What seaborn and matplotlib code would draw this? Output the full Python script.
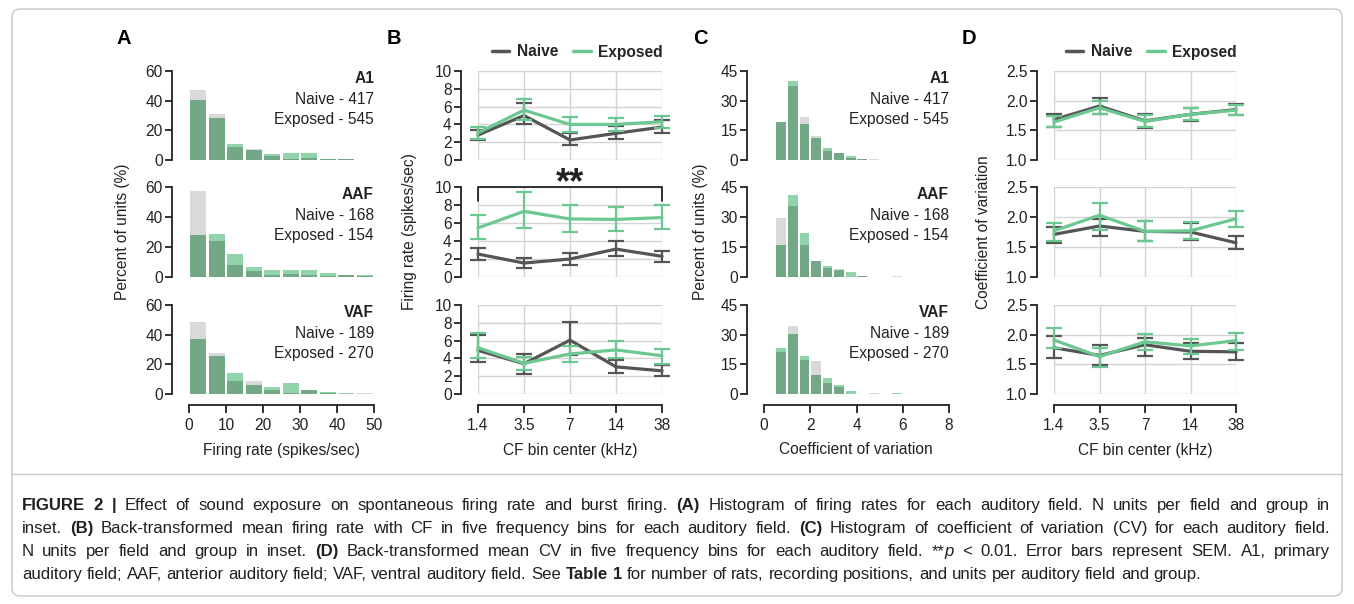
import numpy as np
import pandas as pd
import matplotlib
matplotlib.use("Agg")
import matplotlib.pyplot as plt
import seaborn as sns
from matplotlib.lines import Line2D
from matplotlib.patches import FancyBboxPatch
from matplotlib.transforms import IdentityTransform

# ---- data -------------------------------------------------------------
fields = ['A1', 'AAF', 'VAF']
naive_n = [417, 168, 189]
exposed_n = [545, 154, 270]

# A: firing rate histograms (% of units), bins of 5 spikes/sec
fr_edges = [0, 5, 10, 15, 20, 25, 30, 35, 40, 45, 50]
fr_naive = [[47.5, 31.0, 9.0, 7.5, 3.0, 1.0, 1.5, 1.0, 0.7, 0.2],
            [57.5, 24.0, 8.0, 4.0, 1.5, 2.0, 1.5, 0.5, 1.3, 0.5],
            [48.3, 27.7, 8.5, 8.7, 2.7, 1.0, 2.7, 0.5, 0.3, 0.5]]
fr_exposed = [[40.3, 28.0, 10.5, 7.0, 4.0, 4.5, 4.5, 1.0, 0.7, 0.3],
              [28.0, 29.0, 15.5, 7.0, 4.5, 5.0, 4.5, 2.5, 1.3, 1.1],
              [37.0, 25.5, 14.0, 5.8, 5.0, 7.5, 2.5, 1.3, 1.0, 0.2]]

# C: coefficient of variation histograms, bins of 0.5
cv_edges = [0, 0.5, 1, 1.5, 2, 2.5, 3, 3.5, 4, 4.5, 5, 5.5, 6, 6.5, 7, 7.5, 8]
cv_naive = [[0, 19.3, 37.6, 21.6, 12.0, 4.5, 3.7, 1.0, 0.3, 0.5, 0.2, 0.2, 0.2, 0.2, 0.2, 0.2],
            [0, 29.5, 35.7, 16.0, 8.0, 4.3, 4.2, 0, 0.6, 0, 0, 0.6, 0, 0, 0, 0],
            [0, 21.0, 34.4, 17.0, 16.6, 5.7, 3.4, 0, 0, 0.4, 0, 0, 0, 0, 0, 0]]
cv_exposed = [[0, 19.3, 39.8, 18.0, 11.0, 6.0, 3.7, 2.0, 0.7, 0.2, 0.2, 0.2, 0.2, 0.2, 0.2, 0.2],
              [0, 16.0, 41.0, 22.0, 8.0, 5.7, 3.7, 2.5, 0.6, 0, 0, 0, 0, 0, 0, 0],
              [0, 23.5, 30.5, 19.0, 9.4, 8.2, 4.5, 1.7, 0, 0, 0, 0.4, 0, 0, 0, 0]]

# B / D: CF bins
cf_labels = ['1.4', '3.5', '7', '14', '38']

b_naive_mean = [[2.8, 5.0, 2.25, 3.0, 3.7], [2.55, 1.55, 2.0, 3.1, 2.3], [4.9, 3.4, 6.05, 3.05, 2.6]]
b_naive_lo = [[2.2, 4.0, 1.65, 2.4, 3.05], [1.9, 1.05, 1.35, 2.3, 1.7], [3.6, 2.25, 4.4, 2.4, 2.0]]
b_naive_hi = [[3.4, 6.4, 3.0, 3.8, 4.5], [3.2, 2.1, 2.65, 3.95, 2.9], [6.6, 4.5, 8.1, 3.8, 3.25]]
b_exp_mean = [[3.05, 5.6, 4.0, 4.0, 4.3], [5.45, 7.3, 6.45, 6.4, 6.6], [5.2, 3.45, 4.5, 4.95, 4.3]]
b_exp_lo = [[2.4, 4.5, 3.2, 3.25, 3.55], [4.2, 5.4, 5.0, 5.1, 5.35], [4.0, 2.7, 3.6, 4.0, 3.4]]
b_exp_hi = [[3.7, 6.8, 4.8, 4.75, 4.9], [6.9, 9.4, 8.05, 7.8, 8.05], [6.8, 4.2, 5.4, 5.9, 5.1]]

d_naive_mean = [[1.68, 1.91, 1.66, 1.77, 1.85], [1.71, 1.85, 1.76, 1.75, 1.57], [1.78, 1.65, 1.83, 1.72, 1.71]]
d_naive_lo = [[1.55, 1.77, 1.54, 1.66, 1.76], [1.57, 1.69, 1.60, 1.61, 1.46], [1.60, 1.49, 1.64, 1.59, 1.58]]
d_naive_hi = [[1.78, 2.05, 1.78, 1.88, 1.94], [1.84, 1.97, 1.94, 1.90, 1.68], [1.97, 1.82, 1.95, 1.86, 1.86]]
d_exp_mean = [[1.64, 1.88, 1.65, 1.77, 1.84], [1.77, 2.03, 1.76, 1.77, 1.97], [1.91, 1.63, 1.88, 1.81, 1.90]]
d_exp_lo = [[1.55, 1.77, 1.56, 1.67, 1.75], [1.60, 1.79, 1.60, 1.64, 1.83], [1.78, 1.46, 1.75, 1.68, 1.75]]
d_exp_hi = [[1.74, 2.00, 1.75, 1.87, 1.93], [1.90, 2.23, 1.93, 1.91, 2.10], [2.12, 1.77, 2.01, 1.92, 2.02]]

# ---- style ------------------------------------------------------------
sns.set_style('white')
plt.rcParams['font.family'] = ['Liberation Sans', 'DejaVu Sans']

GRAY = '#d9d9d9'
LIGHT = '#91d4ac'
DARK = '#73a887'
NAIVE = '#555555'
EXPOSED = '#6cc791'
INK = '#222222'
FS = 11.2

W, H = 1354, 604
fig = plt.figure(figsize=(W / 100, H / 100), dpi=100)

rows_top = [71, 187, 305]
rows_bot = [160, 277, 394]


def add_ax(x0, x1, y0, y1):
    return fig.add_axes([x0 / W, 1 - y1 / H, (x1 - x0) / W, (y1 - y0) / H])


def style_axis(ax, bottom_row, xb, yb):
    for s in ['top', 'right']:
        ax.spines[s].set_visible(False)
    ax.spines['left'].set_position(('outward', 12))
    ax.spines['left'].set_bounds(*yb)
    ax.spines['left'].set_color(INK)
    ax.spines['left'].set_linewidth(1.3)
    ax.tick_params(axis='y', direction='out', length=5, width=1.3, color=INK,
                   labelsize=FS, labelcolor=INK, left=True, pad=2)
    if bottom_row:
        ax.spines['bottom'].set_position(('outward', 8))
        ax.spines['bottom'].set_bounds(*xb)
        ax.spines['bottom'].set_color(INK)
        ax.spines['bottom'].set_linewidth(1.3)
        ax.tick_params(axis='x', direction='out', length=6, width=1.3, color=INK,
                       labelsize=FS, labelcolor=INK, bottom=True, pad=3)
    else:
        ax.spines['bottom'].set_visible(False)
        ax.tick_params(axis='x', length=0, labelbottom=False)
    ax.set_xlabel('')
    ax.set_ylabel('')


def hist_panel(ax, edges, naive, exposed):
    centers = [(edges[k] + edges[k + 1]) / 2 for k in range(len(edges) - 1)]
    overlap = np.minimum(naive, exposed)
    for vals, col in [(naive, GRAY), (exposed, LIGHT), (overlap, DARK)]:
        sns.histplot(x=centers, weights=vals, bins=edges, ax=ax, color=col,
                     alpha=1, shrink=0.84, edgecolor='none', linewidth=0)


def inset_counts(ax, i):
    ax.text(1.0, 0.92, fields[i], transform=ax.transAxes, ha='right', va='center',
            fontsize=FS, fontweight='bold', color=INK)
    ax.text(1.0, 0.685, f'Naive - {naive_n[i]}', transform=ax.transAxes, ha='right',
            va='center', fontsize=FS, color=INK)
    ax.text(1.0, 0.46, f'Exposed - {exposed_n[i]}', transform=ax.transAxes, ha='right',
            va='center', fontsize=FS, color=INK)


def line_panel(ax, nm, nlo, nhi, em, elo, ehi):
    pos = np.arange(len(cf_labels))
    df = pd.DataFrame({'x': list(pos) * 2, 'y': nm + em,
                       'group': ['Naive'] * len(pos) + ['Exposed'] * len(pos)})
    for grp, m, lo, hi, col in [('Naive', nm, nlo, nhi, NAIVE), ('Exposed', em, elo, ehi, EXPOSED)]:
        sub = df[df.group == grp]
        sns.lineplot(data=sub, x='x', y='y', color=col, lw=2.3, ax=ax, legend=False)
        m, lo, hi = np.array(m), np.array(lo), np.array(hi)
        eb = ax.errorbar(pos, m, yerr=[m - lo, hi - m], fmt='none', ecolor=col,
                         elinewidth=1.6, capsize=6, capthick=1.6)
        for art in eb.lines[1] + eb.lines[2]:
            art.set_clip_on(False)
    for l in ax.lines:
        l.set_clip_on(False)
    ax.set_xticks(pos)
    ax.set_xticklabels(cf_labels)
    ax.set_xlim(0, len(pos) - 1)
    ax.grid(True, color='#d3d3d3', lw=1)
    ax.set_axisbelow(True)


def top_legend(ax, right_px):
    handles = [Line2D([], [], color=NAIVE, lw=2.5), Line2D([], [], color=EXPOSED, lw=2.5)]
    ax.legend(handles, ['Naive', 'Exposed'], loc='center right',
              bbox_to_anchor=(right_px / W, 1 - 52 / H), bbox_transform=fig.transFigure,
              ncol=2, frameon=False, handlelength=1.1, handletextpad=0.5,
              columnspacing=1.0, borderpad=0, borderaxespad=0,
              prop={'weight': 'bold', 'size': FS})


# ---- panels -----------------------------------------------------------
for i in range(3):
    bottom = i == 2
    # A
    ax = add_ax(189, 374, rows_top[i], rows_bot[i])
    hist_panel(ax, fr_edges, fr_naive[i], fr_exposed[i])
    ax.set_xlim(0, 50)
    ax.set_ylim(0, 60)
    ax.set_yticks([0, 20, 40, 60])
    ax.set_xticks([0, 10, 20, 30, 40, 50])
    style_axis(ax, bottom, (0, 50), (0, 60))
    inset_counts(ax, i)

    # B
    ax = add_ax(478, 662, rows_top[i], rows_bot[i])
    line_panel(ax, b_naive_mean[i], b_naive_lo[i], b_naive_hi[i],
               b_exp_mean[i], b_exp_lo[i], b_exp_hi[i])
    ax.set_ylim(0, 10)
    ax.set_yticks([0, 2, 4, 6, 8, 10])
    style_axis(ax, bottom, (0, 4), (0, 10))
    if i == 1:
        # significance bracket
        br_y, br_tick = 10, 8.5
        ax.plot([0, 0, 4, 4], [br_tick, br_y, br_y, br_tick], color=INK, lw=1.3, clip_on=False)
        ax.text(2, 9.35, '**', ha='center', va='baseline', fontsize=26,
                fontweight='bold', color=INK)
    if i == 0:
        top_legend(ax, 663)

    # C
    ax = add_ax(764, 949, rows_top[i], rows_bot[i])
    hist_panel(ax, cv_edges, cv_naive[i], cv_exposed[i])
    ax.set_xlim(0, 8)
    ax.set_ylim(0, 45)
    ax.set_yticks([0, 15, 30, 45])
    ax.set_xticks([0, 2, 4, 6, 8])
    style_axis(ax, bottom, (0, 8), (0, 45))
    inset_counts(ax, i)

    # D
    ax = add_ax(1054, 1236, rows_top[i], rows_bot[i])
    line_panel(ax, d_naive_mean[i], d_naive_lo[i], d_naive_hi[i],
               d_exp_mean[i], d_exp_lo[i], d_exp_hi[i])
    ax.set_ylim(1.0, 2.5)
    ax.set_yticks([1.0, 1.5, 2.0, 2.5])
    ax.set_yticklabels(['1.0', '1.5', '2.0', '2.5'])
    style_axis(ax, bottom, (0, 4), (1.0, 2.5))
    if i == 0:
        top_legend(ax, 1237)

# panel letters, axis labels
for letter, xp in zip('ABCD', [117, 387, 693, 962]):
    fig.text(xp / W, 1 - 38 / H, letter, fontsize=14.5, fontweight='bold',
             ha='left', va='center', color='black')

ylabels = ['Percent of units (%)', 'Firing rate (spikes/sec)',
           'Percent of units (%)', 'Coefficient of variation']
for lab, xp in zip(ylabels, [122, 410, 700, 984]):
    fig.text(xp / W, 1 - 232 / H, lab, rotation=90, ha='center', va='center',
             fontsize=FS, color=INK)

xlabels = ['Firing rate (spikes/sec)', 'CF bin center (kHz)',
           'Coefficient of variation', 'CF bin center (kHz)']
for lab, xc in zip(xlabels, [281, 570, 856, 1145]):
    fig.text(xc / W, 1 - 450 / H, lab, ha='center', va='center', fontsize=FS, color=INK)

# ---- frame ------------------------------------------------------------
frame = FancyBboxPatch((12, 8), 1330, 587, boxstyle='round,pad=0,rounding_size=8',
                       transform=IdentityTransform(), fill=False, ec='#c8c8c8', lw=1)
fig.patches.append(frame)
fig.add_artist(Line2D([12, 1342], [H - 474, H - 474], transform=IdentityTransform(),
                      color='#c8c8c8', lw=1))

# ---- caption ----------------------------------------------------------
N, B, I = ('normal', 'normal'), ('bold', 'normal'), ('normal', 'italic')
caption_lines = [
    [("FIGURE 2 |", B), (" Effect of sound exposure on spontaneous firing rate and burst firing. ", N),
     ("(A)", B), (" Histogram of firing rates for each auditory field. N units per field and group in", N)],
    [("inset. ", N), ("(B)", B),
     (" Back-transformed mean firing rate with CF in five frequency bins for each auditory field. ", N),
     ("(C)", B), (" Histogram of coefficient of variation (CV) for each auditory field.", N)],
    [("N units per field and group in inset. ", N), ("(D)", B),
     (" Back-transformed mean CV in five frequency bins for each auditory field. **", N),
     ("p", I), (" < 0.01. Error bars represent SEM. A1, primary", N)],
    [("auditory field; AAF, anterior auditory field; VAF, ventral auditory field. See ", N),
     ("Table 1", B), (" for number of rats, recording positions, and units per auditory field and group.", N)],
]
cap_baselines = [510, 533, 556, 579]
CAP_FS = 12.1
renderer = fig.canvas.get_renderer()


def draw_caption_line(runs, y_img, x0, x1, justify):
    words, cur = [], []
    for text, (wt, st) in runs:
        parts = text.split(' ')
        for k, p in enumerate(parts):
            if k > 0 and cur:
                words.append(cur)
                cur = []
            if p:
                cur.append((p, wt, st))
    if cur:
        words.append(cur)
    y = H - y_img
    placed = []
    for word in words:
        arts, wsum = [], 0
        for p, wt, st in word:
            t = fig.text(0, y, p, fontsize=CAP_FS, fontweight=wt, fontstyle=st,
                         color='#231f20', ha='left', va='baseline', transform=IdentityTransform())
            w = t.get_window_extent(renderer).width
            arts.append((t, w))
            wsum += w
        placed.append((arts, wsum))
    sp = fig.text(0, 0, 'a a', fontsize=CAP_FS, transform=IdentityTransform())
    sp2 = fig.text(0, 0, 'aa', fontsize=CAP_FS, transform=IdentityTransform())
    space = sp.get_window_extent(renderer).width - sp2.get_window_extent(renderer).width
    sp.remove()
    sp2.remove()
    total = sum(w for _, w in placed)
    gap = (x1 - x0 - total) / (len(placed) - 1) if justify else space
    x = x0
    for arts, wsum in placed:
        xx = x
        for t, w in arts:
            t.set_x(xx)
            xx += w
        x += wsum + gap


for k, runs in enumerate(caption_lines):
    draw_caption_line(runs, cap_baselines[k], 22, 1330, justify=k < 3)

fig.savefig('out.png', dpi=100)
